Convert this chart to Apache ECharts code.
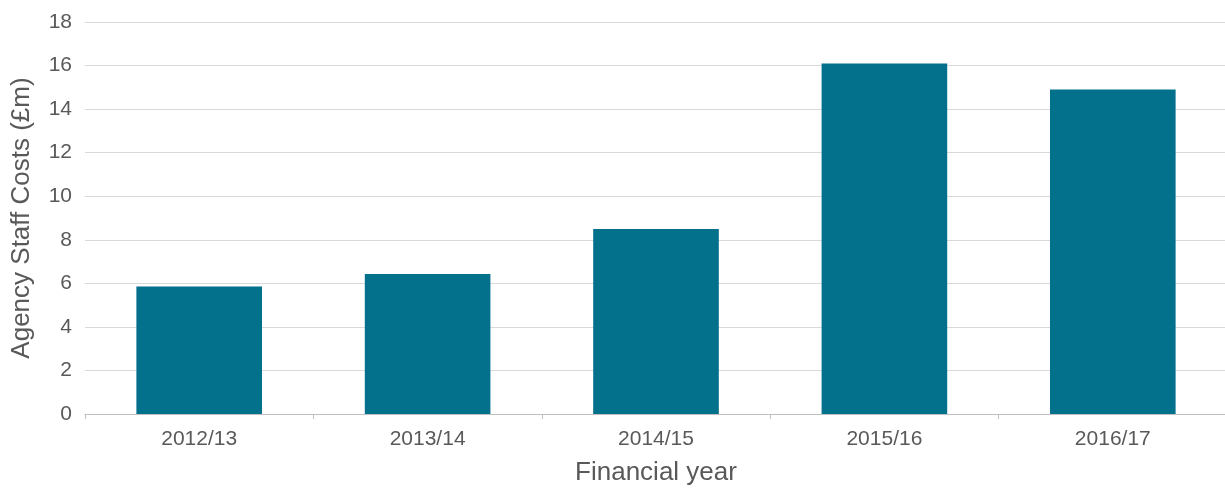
<!DOCTYPE html>
<html>
<head>
<meta charset="utf-8">
<script src="https://cdn.jsdelivr.net/npm/echarts@6/dist/echarts.min.js"></script>
<style>html,body{margin:0;padding:0;background:#fff}#c{width:1225px;height:488px}</style>
</head>
<body>
<div id="c"></div>
<script>
const categories = ['2012/13', '2013/14', '2014/15', '2015/16', '2016/17'];
const agencyCosts = [5.85, 6.43, 8.49, 16.1, 14.9];
const yTicks = [0, 2, 4, 6, 8, 10, 12, 14, 16, 18];

const chart = echarts.init(document.getElementById('c'), null, {renderer: 'canvas'});
chart.setOption({
  animation: false,
  backgroundColor: '#ffffff',
  grid: {left: 85, top: 22, width: 1142, height: 392, containLabel: false, outerBoundsMode: 'none'},
  xAxis: {
    type: 'category',
    data: categories,
    name: 'Financial year',
    nameLocation: 'middle',
    nameGap: 46,
    nameTextStyle: {color: '#595959', fontSize: 26, fontFamily: 'Liberation Sans, Arial'},
    axisLine: {show: true, lineStyle: {color: '#bfbfbf', width: 1}},
    axisTick: {show: true, length: 5, lineStyle: {color: '#bfbfbf'}},
    axisLabel: {color: '#595959', fontSize: 21, margin: 15, fontFamily: 'Liberation Sans, Arial'}
  },
  yAxis: {
    type: 'value',
    min: yTicks[0],
    max: yTicks[yTicks.length - 1],
    interval: 2,
    name: 'Agency Staff Costs (£m)',
    nameLocation: 'middle',
    nameGap: 50,
    nameTextStyle: {color: '#595959', fontSize: 26, fontFamily: 'Liberation Sans, Arial'},
    axisLine: {show: false},
    axisTick: {show: false},
    axisLabel: {color: '#595959', fontSize: 21, margin: 13, fontFamily: 'Liberation Sans, Arial'},
    splitLine: {show: true, lineStyle: {color: '#d9d9d9', width: 1}}
  },
  series: [{
    type: 'bar',
    data: agencyCosts,
    barCategoryGap: '45%',
    itemStyle: {color: '#03708c'}
  }]
});
</script>
</body>
</html>
